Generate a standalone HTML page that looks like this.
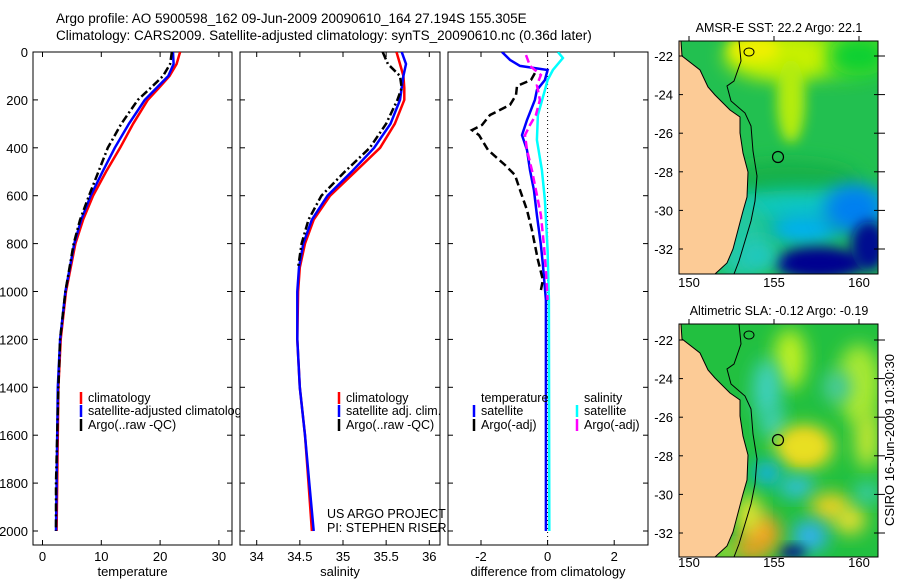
<!DOCTYPE html>
<html><head><meta charset="utf-8"><style>
body{margin:0;background:#fff}
svg{display:block;font-family:"Liberation Sans",sans-serif}
</style></head><body>
<svg id="c" width="900" height="580" viewBox="0 0 900 580">
<defs>
<clipPath id="cp1"><rect x="33" y="52" width="199" height="493"/></clipPath>
<clipPath id="cp2"><rect x="240" y="52" width="200" height="493"/></clipPath>
<clipPath id="cp3"><rect x="448" y="52" width="200" height="493"/></clipPath>
<filter id="bl" x="-50%" y="-50%" width="200%" height="200%"><feGaussianBlur stdDeviation="9"/></filter>
<filter id="bl2" x="-50%" y="-50%" width="200%" height="200%"><feGaussianBlur stdDeviation="6"/></filter>
<clipPath id="mc"><rect x="0" y="0" width="199" height="233"/></clipPath>
</defs>
<text x="56" y="23" font-size="13.5">Argo profile: AO 5900598_162 09-Jun-2009 20090610_164 27.194S 155.305E</text>
<text x="56" y="40" font-size="13.5">Climatology: CARS2009. Satellite-adjusted climatology: synTS_20090610.nc (0.36d later)</text>
<g id="panels"></g>
<g id="maps"></g>
<text transform="translate(894,440) rotate(-90)" text-anchor="middle" font-size="13">CSIRO 16-Jun-2009 10:30:30</text>
</svg>
<script>
const depthT=[0,50,100,150,200,300,400,500,600,700,800,1000,1200,1400,1600,1800,2000];
const climT=[23.4,22.8,21.6,19.8,17.9,15.4,13.2,10.8,8.6,6.9,5.6,4.0,3.1,2.7,2.6,2.5,2.4];
const satT=[22.2,22.3,21.4,19.4,17.4,14.7,12.3,10.2,8.2,6.6,5.4,3.9,3.0,2.6,2.5,2.4,2.3];
const argoT=[22.0,21.7,20.5,18.4,16.2,13.4,11.1,9.5,7.9,6.4,5.3,3.9,3.0,2.7,2.5,2.3,2.3];
const depthS=[0,50,100,150,200,300,400,500,600,700,800,900,1000,1200,1400,1600,1800,2000];
const climS=[35.62,35.66,35.70,35.71,35.71,35.60,35.43,35.14,34.85,34.66,34.56,34.50,34.48,34.47,34.50,34.56,34.60,34.64];
const satS=[35.68,35.73,35.70,35.68,35.66,35.55,35.36,35.10,34.82,34.64,34.54,34.49,34.47,34.47,34.50,34.56,34.61,34.66];
const argoS=[35.46,35.52,35.66,35.68,35.63,35.50,35.31,35.02,34.75,34.60,34.52,34.48];
const depthCyan=[0,25,75,117,159,263,367,493,618,827,1035,2000];
const satSalDiff=[0.31,0.46,0.16,0,-0.08,-0.29,-0.32,-0.17,-0.08,0,0.04,0.05];
const depthBlue=[0,33,58,75,117,159,200,284,347,409,493,576,681,806,889,1035,2000];
const satTempDiff=[-1.37,-1.13,-0.83,0,-0.08,-0.32,-0.38,-0.62,-0.77,-0.62,-0.53,-0.41,-0.32,-0.2,-0.14,-0.05,-0.05];
const depthMag=[13,58,96,138,200,263,305,347,409,493,597,681,806,910,1035];
const argoSalDiff=[-0.65,-0.53,-0.2,-0.32,-0.23,-0.35,-0.53,-0.68,-0.62,-0.47,-0.32,-0.2,-0.11,-0.05,0];
const depthBlk=[88,117,142,180,221,263,305,326,347,409,472,514,576,660,743,868,952,994];
const argoTempDiff=[-0.38,-0.5,-0.92,-0.95,-1.13,-1.73,-1.97,-2.27,-2.06,-1.79,-1.28,-0.98,-0.83,-0.62,-0.47,-0.29,-0.14,-0.2];
const depthTicks=[0,200,400,600,800,1000,1200,1400,1600,1800,2000];
const tempTicks=[0,10,20,30];
const salTicks=[34,34.5,35,35.5,36];
const salTickLabels=["34","34.5","35","35.5","36"];
const diffTicks=[-2,0,2];
const latTicks=[-22,-24,-26,-28,-30,-32];
const lonTicks=[150,155,160];

const NS="http://www.w3.org/2000/svg";
function mk(tag,attrs,parent){const e=document.createElementNS(NS,tag);for(const k in attrs)e.setAttribute(k,attrs[k]);parent.appendChild(e);return e;}
const yD=d=>52+0.2395*d;
const xT=t=>42.5+5.88*t;
const xS=s=>256.7+86.3*(s-34);
const xDf=v=>547.6+33.3*v;
const P=document.getElementById('panels');

function panel(name,x0,w,xf,xt,xlabels,xtitle,showY){
  const g=mk('g',{},P);
  
  
  mk('rect',{x:x0,y:52,width:w,height:493,fill:'#fff',stroke:'#000','stroke-width':1},g);
  depthTicks.forEach(d=>{
    mk('line',{x1:x0,x2:x0+5,y1:yD(d),y2:yD(d),stroke:'#000'},g);
    mk('line',{x1:x0+w,x2:x0+w-5,y1:yD(d),y2:yD(d),stroke:'#000'},g);
    if(showY){const t=mk('text',{x:x0-5,y:yD(d)+5,'text-anchor':'end','font-size':13},g);t.textContent=d;
      
      }
  });
  xt.forEach((v,i)=>{
    mk('line',{x1:xf(v),x2:xf(v),y1:52,y2:57,stroke:'#000'},g);
    mk('line',{x1:xf(v),x2:xf(v),y1:545,y2:540,stroke:'#000'},g);
    const t=mk('text',{x:xf(v),y:561,'text-anchor':'middle','font-size':13},g);t.textContent=xlabels[i];
    
    
  });
  const tt=mk('text',{x:x0+w/2,y:576,'text-anchor':'middle','font-size':13},g);tt.textContent=xtitle;
  
  
  return g;
}
function line(g,deps,vals,xf,color,dash,clip,name){
  const pts=deps.map((d,i)=>xf(vals[i]).toFixed(1)+','+yD(d).toFixed(1)).join(' ');
  const a={points:pts,fill:'none',stroke:color,'stroke-width':2.5,'clip-path':'url(#'+clip+')'};
  if(dash)a['stroke-dasharray']=dash;
  const e=mk('polyline',a,g);
  
  
}
function legend(g,x,y,color,text,name){
  mk('line',{x1:x,x2:x,y1:y-10,y2:y+2,stroke:color,'stroke-width':2.5},g);
  const t=mk('text',{x:x+7,y:y,'font-size':12.5},g);t.textContent=text;
  
  
}
const g1=panel('temperature-panel',33,199,xT,tempTicks,tempTicks.map(String),'temperature',true);
line(g1,depthT,climT,xT,'#f00',null,'cp1','climatology-temperature-line');
line(g1,depthT,satT,xT,'#00f',null,'cp1','satellite-temperature-line');
line(g1,depthT,argoT,xT,'#000','8,3,2,3','cp1','argo-temperature-line');
legend(g1,81,402,'#f00','climatology','legend-climatology');
legend(g1,81,415,'#00f','satellite-adjusted climatology','legend-satellite');
legend(g1,81,429,'#000','Argo(..raw -QC)','legend-argo');
const g2=panel('salinity-panel',240,200,xS,salTicks,salTickLabels,'salinity',false);
line(g2,depthS,climS,xS,'#f00',null,'cp2','climatology-salinity-line');
line(g2,depthS,satS,xS,'#00f',null,'cp2','satellite-salinity-line');
line(g2,depthS.slice(0,argoS.length),argoS,xS,'#000','8,3,2,3','cp2','argo-salinity-line');
legend(g2,339,402,'#f00','climatology','legend-climatology');
legend(g2,339,415,'#00f','satellite adj. clim.','legend-satellite');
legend(g2,339,429,'#000','Argo(..raw -QC)','legend-argo');
const u1=mk('text',{x:327,y:518,'font-size':12.5},g2);u1.textContent='US ARGO PROJECT';


const u2=mk('text',{x:327,y:532,'font-size':12.5},g2);u2.textContent='PI: STEPHEN RISER';


const g3=panel('difference-panel',448,200,xDf,diffTicks,diffTicks.map(String),'difference from climatology',false);
mk('line',{x1:xDf(0),x2:xDf(0),y1:52,y2:545,stroke:'#000','stroke-dasharray':'1,3'},g3);
line(g3,depthCyan,satSalDiff,xDf,'#0ff',null,'cp3','satellite-salinity-diff-line');
line(g3,depthBlue,satTempDiff,xDf,'#00f',null,'cp3','satellite-temperature-diff-line');
line(g3,depthMag,argoSalDiff,xDf,'#f0f','8,4','cp3','argo-salinity-diff-line');
line(g3,depthBlk,argoTempDiff,xDf,'#000','8,4','cp3','argo-temperature-diff-line');
const lt=mk('text',{x:481,y:402,'font-size':12.5},g3);lt.textContent='temperature';


const ls=mk('text',{x:584,y:402,'font-size':12.5},g3);ls.textContent='salinity';


legend(g3,474,415,'#00f','satellite','legend-temp-satellite');
legend(g3,474,429,'#000','Argo(-adj)','legend-temp-argo');
legend(g3,577,415,'#0ff','satellite','legend-sal-satellite');
legend(g3,577,429,'#f0f','Argo(-adj)','legend-sal-argo');

const M=document.getElementById('maps');
const coast=[[0,0],[2,0],[3,15],[21,29],[29,46],[36,54],[51,69],[61,76],[61,92],[64,112],[69,131],[68,156],[64,170],[59,189],[54,208],[48,222],[36,233],[0,233]];
const contour=[[60,0],[62,20],[55,40],[48,45],[52,60],[66,72],[72,85],[74,110],[78,135],[76,160],[72,180],[66,200],[60,220],[55,233]];
function map(name,x0,y0,title,base,blobs,latY0,ylbl){
  const g=mk('g',{transform:'translate('+x0+','+y0+')'},M);
  
  
  const inner=mk('g',{'clip-path':'url(#mc)'},g);
  mk('rect',{x:0,y:0,width:199,height:233,fill:base},inner);
  blobs.forEach(b=>mk('ellipse',{cx:b[0],cy:b[1],rx:b[2],ry:b[3],fill:b[4],filter:'url(#'+(b[5]||'bl')+')'},inner));
  mk('polygon',{points:coast.map(p=>p.join(',')).join(' '),fill:'#fccb96'},inner);
  mk('polyline',{points:coast.slice(1,-1).map(p=>p.join(',')).join(' '),fill:'none',stroke:'#000','stroke-width':1},inner);
  mk('polyline',{points:contour.map(p=>p.join(',')).join(' '),fill:'none',stroke:'#000','stroke-width':1},inner);
  mk('ellipse',{cx:70,cy:11,rx:5,ry:4,fill:'none',stroke:'#000'},inner);
  const ci=mk('circle',{cx:99,cy:116,r:5.5,fill:'none',stroke:'#000','stroke-width':1.2},inner);
  
  
  mk('rect',{x:0,y:0,width:199,height:233,fill:'none',stroke:'#000'},g);
  latTicks.forEach(l=>{const y=latY0+19.3*(-22-l);
    mk('line',{x1:199,x2:195,y1:y,y2:y,stroke:'#000'},g);mk('line',{x1:0,x2:4,y1:y,y2:y,stroke:'#000'},g);
    mk('line',{x1:199,x2:206,y1:y,y2:y,stroke:'#000'},g);
    const t=mk('text',{x:-6,y:y+5,'text-anchor':'end','font-size':13},g);t.textContent=l;
    
    });
  lonTicks.forEach(l=>{const x=10+17*(l-150);
    mk('line',{x1:x,x2:x,y1:0,y2:-5,stroke:'#000'},g);
    const t=mk('text',{x:x,y:ylbl,'text-anchor':'middle','font-size':13},g);t.textContent=l;
    
    });
  const tt=mk('text',{x:100,y:-9,'text-anchor':'middle','font-size':12.5},g);tt.textContent=title;
  
  
}
map('sst-map',679,41,'AMSR-E SST: 22.2 Argo: 22.1','#22c050',[
 [140,12,80,25,'#6ee020'],[100,15,55,24,'#c8f000'],[75,8,25,12,'#f0f000','bl2'],[112,60,14,42,'#b4ec10','bl2'],
 [180,15,30,20,'#10d030'],[110,140,70,20,'#18b048'],[130,165,90,16,'#10c8c0'],[60,200,30,40,'#20c8a0'],
 [125,188,35,16,'#00b0f0'],[175,168,30,25,'#0080f0'],[140,222,45,16,'#000090','bl2'],[190,205,18,25,'#000a90','bl2'],
 [80,215,20,15,'#20c8c0']],15,246);
map('sla-map',679,324,'Altimetric SLA: -0.12 Argo: -0.19','#22c040',[
 [111,35,16,30,'#c0f020'],[180,60,22,40,'#a8e830'],[88,65,14,30,'#40d0c0'],[94,100,12,15,'#40d0c0'],
 [158,63,14,16,'#40c8a0'],[125,123,18,15,'#f0a010','bl2'],[125,123,30,22,'#e8e020'],[188,115,12,30,'#c8e830'],
 [88,149,14,12,'#10b0f0'],[118,163,18,10,'#30c0f0'],[151,183,20,14,'#f0d020'],[171,196,16,14,'#e8e030'],
 [188,169,12,10,'#40d0c0'],[131,212,18,16,'#30b0f0'],[113,228,14,6,'#000090','bl2'],[82,209,20,20,'#f0a020'],
 [71,225,18,10,'#f0a020'],[45,228,12,8,'#c8e830'],[70,190,12,20,'#e8e830']],16,243);
</script>
</body></html>
